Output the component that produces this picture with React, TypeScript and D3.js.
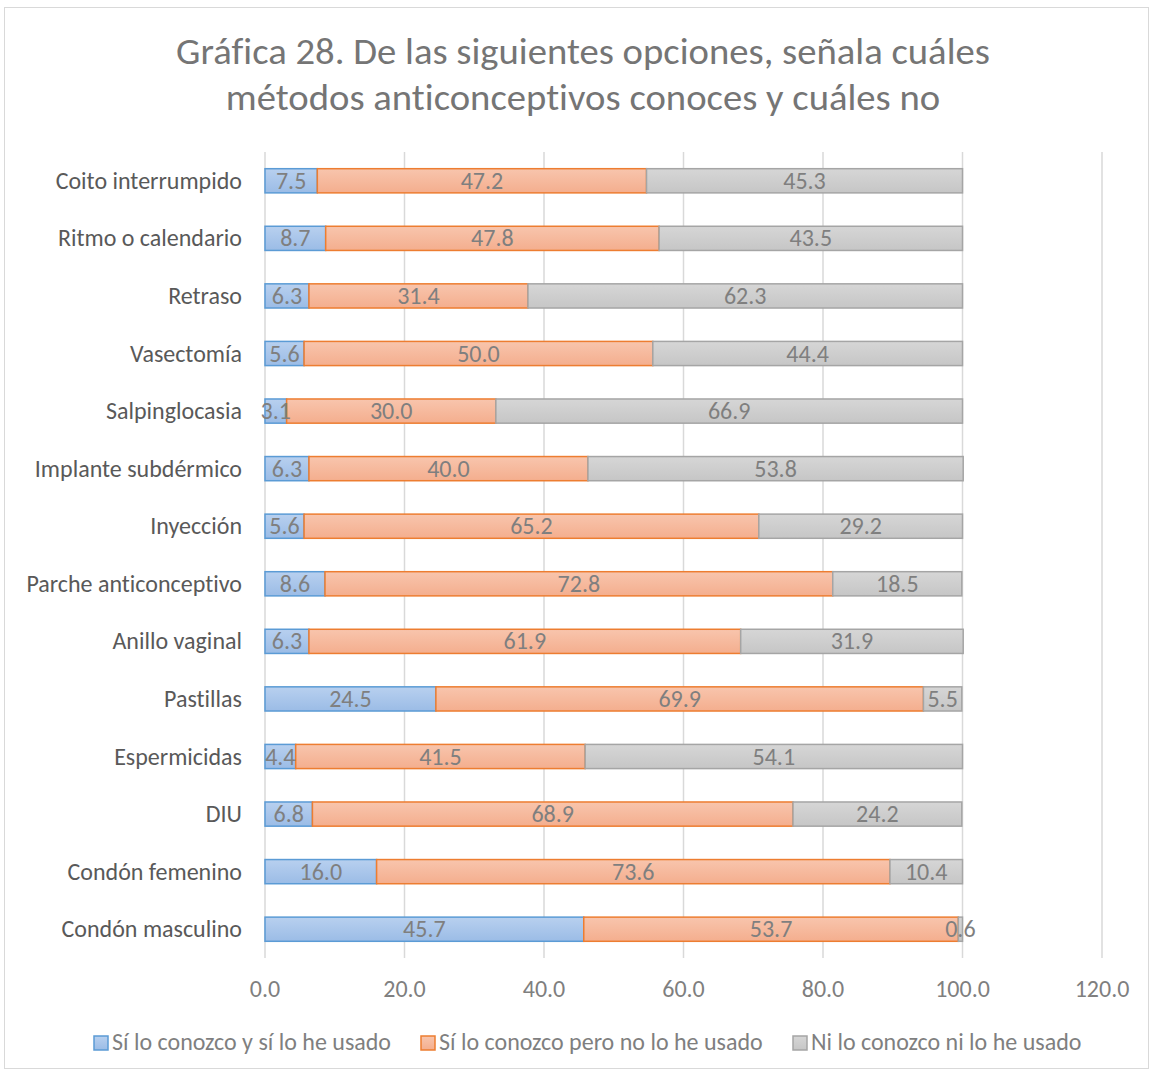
import React from "react";
import * as d3 from "d3";

const categories = [
  "Coito interrumpido",
  "Ritmo o calendario",
  "Retraso",
  "Vasectomía",
  "Salpinglocasia",
  "Implante subdérmico",
  "Inyección",
  "Parche anticonceptivo",
  "Anillo vaginal",
  "Pastillas",
  "Espermicidas",
  "DIU",
  "Condón femenino",
  "Condón masculino",
];
const usado = [7.5, 8.7, 6.3, 5.6, 3.1, 6.3, 5.6, 8.6, 6.3, 24.5, 4.4, 6.8, 16.0, 45.7];
const noUsado = [47.2, 47.8, 31.4, 50.0, 30.0, 40.0, 65.2, 72.8, 61.9, 69.9, 41.5, 68.9, 73.6, 53.7];
const noConoce = [45.3, 43.5, 62.3, 44.4, 66.9, 53.8, 29.2, 18.5, 31.9, 5.5, 54.1, 24.2, 10.4, 0.6];
const seriesNames = [
  "Sí lo conozco y sí lo he usado",
  "Sí lo conozco pero no lo he usado",
  "Ni lo conozco ni lo he usado",
];
const xTicks = [0, 20, 40, 60, 80, 100, 120];
const titleLines = [
  "Gráfica 28. De las siguientes opciones, señala cuáles",
  "métodos anticonceptivos conoces y cuáles no",
];

const W = 1153;
const H = 1073;
const FONT = "Carlito, Calibri, 'Open Sans', sans-serif";
const TXT = "#7f7f7f";
const NOLIG = {
  fontVariantLigatures: "none",
  fontFeatureSettings: '"liga" 0, "clig" 0, "calt" 0, "dlig" 0',
} as React.CSSProperties;

const styles = [
  { id: "gBlue", top: "#b8d0ef", bot: "#9bbce6", stroke: "#5b9bd5" },
  { id: "gOrange", top: "#f8c5ad", bot: "#f4ae8e", stroke: "#ed7d31" },
  { id: "gGray", top: "#d6d6d6", bot: "#c6c6c6", stroke: "#a5a5a5" },
];

export default function App() {
  const x = d3.scaleLinear().domain([0, 120]).range([265, 1102]);
  const y = d3.scaleBand().domain(categories).range([152, 958]).paddingInner(0.58).paddingOuter(0.29);
  const data = categories.map((c, i) => ({ c, v: [usado[i], noUsado[i], noConoce[i]] }));
  const bh = y.bandwidth();

  const legendItems = [
    { x: 94, name: seriesNames[0] },
    { x: 421, name: seriesNames[1] },
    { x: 793, name: seriesNames[2] },
  ];

  return (
    <svg
      width={W}
      height={H}
      style={{ position: "absolute", left: 0, top: 0, background: "#fff", ...NOLIG }}
    >
      <defs>
        {styles.map((s) => (
          <linearGradient key={s.id} id={s.id} x1="0" y1="0" x2="0" y2="1">
            <stop offset="0" stopColor={s.top} />
            <stop offset="1" stopColor={s.bot} />
          </linearGradient>
        ))}
      </defs>
      <rect x={4.5} y={7.5} width={1144} height={1061} fill="#fff" stroke="#d9d9d9" />
      {titleLines.map((t, i) => (
        <text
          key={i}
          transform={`translate(583,${64 + i * 46}) scale(1.075,1)`}
          textAnchor="middle"
          fontFamily={FONT}
          fontSize={36}
          fill="#757575"
          style={NOLIG}
        >
          {t}
        </text>
      ))}
      {xTicks.map((t) => (
        <g key={t}>
          <line x1={x(t)} x2={x(t)} y1={152} y2={958} stroke="#d9d9d9" strokeWidth={1.5} />
          <text x={x(t)} y={997} textAnchor="middle" fontFamily={FONT} fontSize={24} fill={TXT}>
            {t.toFixed(1)}
          </text>
        </g>
      ))}
      {data.map((d) => {
        let acc = 0;
        const yy = y(d.c)!;
        return (
          <g key={d.c}>
            <text x={242} y={yy + bh / 2 + 8} textAnchor="end" fontFamily={FONT} fontSize={24} fill="#595959" style={NOLIG}>
              {d.c}
            </text>
            {d.v.map((v, j) => {
              const x0 = x(acc);
              acc += v;
              const x1 = x(acc);
              return (
                <rect key={j} x={x0} y={yy} width={x1 - x0} height={bh} fill={`url(#${styles[j].id})`} stroke={styles[j].stroke} strokeWidth={1.5} />
              );
            })}
            {(() => {
              let a2 = 0;
              return d.v.map((v, j) => {
                const cx = x(a2 + v / 2);
                a2 += v;
                return (
                  <text key={j} x={cx} y={yy + bh / 2 + 8} textAnchor="middle" fontFamily={FONT} fontSize={24} fill={TXT}>
                    {v.toFixed(1)}
                  </text>
                );
              });
            })()}
          </g>
        );
      })}
      {legendItems.map((l, i) => (
        <g key={i}>
          <rect x={l.x} y={1036} width={14} height={14} fill={`url(#${styles[i].id})`} stroke={styles[i].stroke} strokeWidth={1.5} />
          <text x={l.x + 18} y={1050} fontFamily={FONT} fontSize={24} fill={TXT} style={NOLIG}>
            {l.name}
          </text>
        </g>
      ))}
    </svg>
  );
}
